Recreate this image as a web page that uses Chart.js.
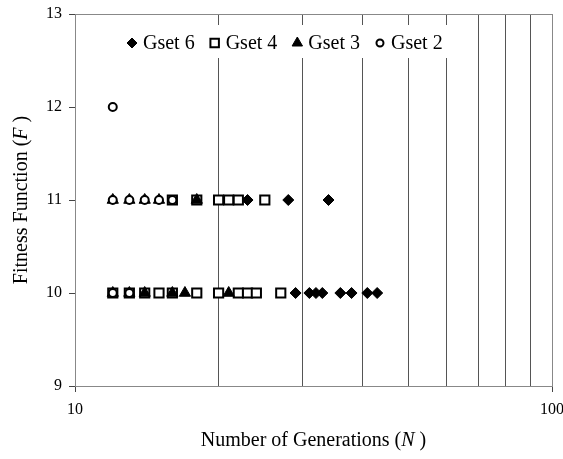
<!DOCTYPE html>
<html>
<head>
<meta charset="utf-8">
<script src="https://cdn.jsdelivr.net/npm/chart.js@4.4.1/dist/chart.umd.min.js"></script>
<style>
  html, body { margin: 0; padding: 0; background: #fff; }
  #wrap { width: 563px; height: 459px; position: relative; }
</style>
</head>
<body>
<div id="wrap"><canvas id="chart"></canvas></div>
<script>
// series data: N = generations, F = fitness
const gset6N = [23, 28, 34, 29, 31, 32, 33, 36, 38, 41, 43];
const gset6F = [11, 11, 11, 10, 10, 10, 10, 10, 10, 10, 10];

const gset4N = [16, 18, 20, 21, 22, 25, 12, 13, 14, 15, 16, 18, 20, 22, 23, 24, 27];
const gset4F = [11, 11, 11, 11, 11, 11, 10, 10, 10, 10, 10, 10, 10, 10, 10, 10, 10];

const gset3N = [12, 13, 14, 15, 18, 12, 13, 14, 16, 17, 21];
const gset3F = [11, 11, 11, 11, 11, 10, 10, 10, 10, 10, 10];

const gset2N = [12, 12, 13, 14, 15, 16, 12, 13];
const gset2F = [12, 11, 11, 11, 11, 11, 10, 10];

const xGrid = [10, 20, 30, 40, 50, 60, 70, 80, 90, 100];
const xTickLabels = [10, 100];
const yTicks = [9, 10, 11, 12, 13];

const serif = "'Liberation Serif', 'Times New Roman', serif";

function pts(xs, ys) {
    return xs.map((x, i) => ({ x: x, y: ys[i] }));
}

// gray frame round the plot area (top and right edges show it)
const framePlugin = {
    id: 'frame',
    beforeDatasetsDraw(chart) {
        const a = chart.chartArea;
        const ctx = chart.ctx;
        ctx.save();
        ctx.strokeStyle = '#888';
        ctx.lineWidth = 1;
        ctx.strokeRect(a.left + 0.5, a.top + 0.5, a.right - a.left, a.bottom - a.top);
        ctx.restore();
    }
};

// legend boxed inside the plot, white background covering gridlines
const legendPlugin = {
    id: 'innerLegend',
    afterDraw(chart) {
        const ctx = chart.ctx;
        const y = 43;
        ctx.save();
        ctx.font = '20px ' + serif;
        ctx.fillStyle = '#fff';
        ctx.fillRect(122, 25, 342, 33);
        let cx = 126;
        chart.data.datasets.forEach(ds => {
            const style = {
                pointStyle: ds.pointStyle,
                radius: ds.legendRadius,
                rotation: 0,
                borderWidth: ds.borderWidth
            };
            ctx.fillStyle = ds.backgroundColor;
            ctx.strokeStyle = ds.borderColor;
            ctx.lineWidth = ds.borderWidth;
            Chart.helpers.drawPoint(ctx, style, cx + 6, y);
            ctx.fillStyle = '#000';
            ctx.textBaseline = 'middle';
            ctx.textAlign = 'left';
            ctx.fillText(ds.label, cx + 17, y + 1);
            cx = cx + 17 + ctx.measureText(ds.label).width + 14;
        });
        ctx.restore();
    }
};

// axis titles with the italic symbol
const titlePlugin = {
    id: 'axisTitles',
    afterDraw(chart) {
        const ctx = chart.ctx;
        const a = chart.chartArea;
        ctx.save();
        ctx.fillStyle = '#000';
        ctx.textBaseline = 'middle';
        const drawTitle = (parts, cx, cy) => {
            let total = 0;
            parts.forEach(p => { ctx.font = p[1] + '20px ' + serif; total += ctx.measureText(p[0]).width; });
            let x = cx - total / 2;
            ctx.textAlign = 'left';
            parts.forEach(p => {
                ctx.font = p[1] + '20px ' + serif;
                ctx.fillText(p[0], x, cy);
                x += ctx.measureText(p[0]).width;
            });
        };
        drawTitle([['Number of Generations (', ''], ['N', 'italic '], [' )', '']], (a.left + a.right) / 2, 441);
        ctx.translate(22, (a.top + a.bottom) / 2);
        ctx.rotate(-Math.PI / 2);
        drawTitle([['Fitness Function (', ''], ['F', 'italic '], [' )', '']], 0, 0);
        ctx.restore();
    }
};

new Chart(document.getElementById('chart'), {
    type: 'scatter',
    data: {
        datasets: [
            {
                label: 'Gset 6',
                data: pts(gset6N, gset6F),
                pointStyle: 'rectRot',
                pointRadius: 5.5,
                legendRadius: 5,
                backgroundColor: '#000',
                borderColor: '#000',
                borderWidth: 1,
                order: 3
            },
            {
                label: 'Gset 4',
                data: pts(gset4N, gset4F),
                pointStyle: 'rect',
                pointRadius: 6.5,
                legendRadius: 6,
                backgroundColor: '#fff',
                borderColor: '#000',
                borderWidth: 2,
                order: 2
            },
            {
                label: 'Gset 3',
                data: pts(gset3N, gset3F),
                pointStyle: 'triangle',
                pointRadius: 6.5,
                legendRadius: 6,
                backgroundColor: '#000',
                borderColor: '#000',
                borderWidth: 1,
                order: 1
            },
            {
                label: 'Gset 2',
                data: pts(gset2N, gset2F),
                pointStyle: 'circle',
                pointRadius: 4,
                legendRadius: 3.5,
                backgroundColor: '#fff',
                borderColor: '#000',
                borderWidth: 2,
                order: 0
            }
        ]
    },
    options: {
        responsive: true,
        maintainAspectRatio: false,
        animation: false,
        events: [],
        layout: { padding: { top: 14, right: 11, left: 0, bottom: 0 } },
        plugins: {
            legend: { display: false },
            tooltip: { enabled: false }
        },
        scales: {
            x: {
                type: 'logarithmic',
                min: 10,
                max: 100,
                afterBuildTicks(scale) { scale.ticks = xGrid.map(v => ({ value: v })); },
                afterFit(scale) {
                    scale.height = 73;
                    scale.paddingLeft = 0;
                    scale.paddingRight = 0;
                },
                border: { display: true, color: '#444', width: 1 },
                grid: {
                    color: '#555',
                    lineWidth: 1,
                    tickLength: 6,
                    tickColor: ctx => (ctx.tick && xTickLabels.includes(ctx.tick.value)) ? '#444' : 'rgba(0,0,0,0)'
                },
                ticks: {
                    autoSkip: false,
                    maxRotation: 0,
                    padding: 8,
                    color: '#000',
                    font: { family: serif, size: 16 },
                    callback: v => xTickLabels.includes(v) ? String(v) : ''
                }
            },
            y: {
                min: 9,
                max: 13,
                afterFit(scale) {
                    scale.width = 75;
                    scale.paddingTop = 0;
                    scale.paddingBottom = 0;
                },
                afterBuildTicks(scale) { scale.ticks = yTicks.map(v => ({ value: v })); },
                border: { display: true, color: '#444', width: 1 },
                grid: {
                    drawOnChartArea: false,
                    tickLength: 6,
                    tickColor: '#444'
                },
                ticks: {
                    padding: 7,
                    color: '#000',
                    font: { family: serif, size: 16 }
                }
            }
        }
    },
    plugins: [framePlugin, legendPlugin, titlePlugin]
});
</script>
</body>
</html>
